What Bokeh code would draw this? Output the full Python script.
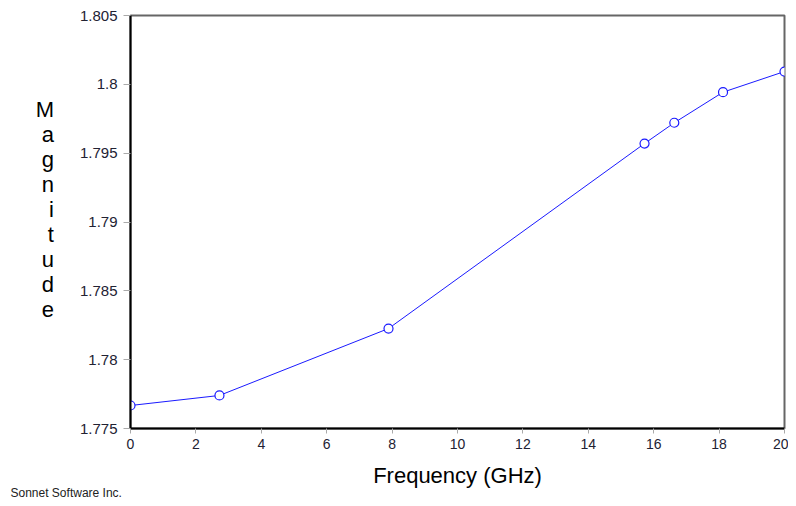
from bokeh.plotting import figure
from bokeh.models import Range1d, FixedTicker, Title
from bokeh.embed import file_html
from bokeh.resources import INLINE

freq = [0.0, 2.72, 7.89, 15.72, 16.63, 18.12, 20.0]
mag = [1.77667, 1.7774, 1.78226, 1.7957, 1.79721, 1.79943, 1.80093]
x_ticks = [0, 2, 4, 6, 8, 10, 12, 14, 16, 18, 20]
y_ticks = [1.775, 1.78, 1.785, 1.79, 1.795, 1.8, 1.805]
y_tick_labels = {1.775: "1.775", 1.78: "1.78", 1.785: "1.785", 1.79: "1.79",
                 1.795: "1.795", 1.8: "1.8", 1.805: "1.805"}
y_label = "Magnitude"
x_label = "Frequency (GHz)"
credit = "Sonnet Software Inc."

p = figure(width=788, height=498, output_backend="svg", toolbar_location=None,
           x_range=Range1d(0, 20), y_range=Range1d(1.775, 1.805),
           min_border_left=130, min_border_right=4, min_border_top=15,
           min_border_bottom=70)
p.grid.visible = False
p.outline_line_color = "#666666"
p.outline_line_width = 2
p.background_fill_color = "white"
p.border_fill_color = "white"

p.xaxis.ticker = FixedTicker(ticks=x_ticks)
p.yaxis.ticker = FixedTicker(ticks=y_ticks)
p.yaxis.major_label_overrides = y_tick_labels
for ax in (p.xaxis, p.yaxis):
    ax.axis_line_color = "black"
    ax.axis_line_width = 2
    ax.major_tick_line_color = "#aaaaaa"
    ax.minor_tick_line_color = None
    ax.major_tick_in = 0
    ax.major_label_text_font = "Liberation Sans"
    ax.major_label_text_color = "#222233"
p.yaxis.major_tick_out = 7
p.xaxis.major_tick_out = 5
p.yaxis.major_label_text_font_size = "15px"
p.xaxis.major_label_text_font_size = "14px"
p.yaxis.major_label_standoff = 6
p.xaxis.major_label_standoff = 5

p.xaxis.axis_label = x_label
p.xaxis.axis_label_text_font = "Liberation Sans"
p.xaxis.axis_label_text_font_style = "normal"
p.xaxis.axis_label_text_font_size = "22px"
p.xaxis.axis_label_text_color = "black"
p.xaxis.axis_label_standoff = 11

# stacked (one letter per line) y-axis label
p.yaxis.axis_label = "\n".join(list(y_label)) + "\n "
p.yaxis.axis_label_orientation = "horizontal"
p.yaxis.axis_label_text_align = "center"
p.yaxis.axis_label_text_font = "Liberation Sans"
p.yaxis.axis_label_text_font_style = "normal"
p.yaxis.axis_label_text_font_size = "22px"
p.yaxis.axis_label_text_line_height = 1.0
p.yaxis.axis_label_text_color = "black"
p.yaxis.axis_label_standoff = 23

p.line(freq, mag, line_color="#1a1aff", line_width=1)
p.scatter(freq, mag, size=9, marker="circle", line_color="#1a1aff",
          fill_color="white", line_width=1.2)

p.add_layout(Title(text=credit, align="left", offset=-120, standoff=-14,
                   vertical_align="bottom",
                   text_font="Liberation Sans", text_font_size="12px",
                   text_font_style="normal", text_color="#222222"), "below")

open("out.html", "w").write(file_html(p, INLINE))
